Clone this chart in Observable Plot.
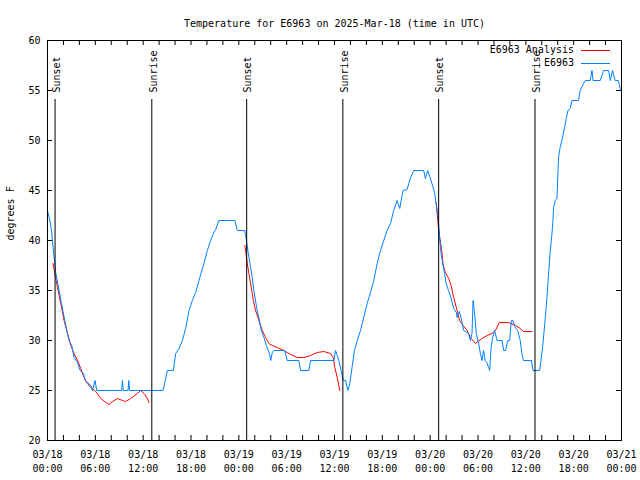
<!DOCTYPE html>
<html><head><meta charset="utf-8">
<script src="https://cdn.jsdelivr.net/npm/d3@7"></script>
<script src="https://cdn.jsdelivr.net/npm/@observablehq/plot@0.6"></script>
<style>
body{margin:0;background:#fff;}
#wrap{position:relative;width:640px;height:480px;font-family:"DejaVu Sans Mono",monospace;}
#legend{position:absolute;left:0;top:0;}
</style>
</head><body><div id="wrap"></div>
<script>
const title = "Temperature for E6963 on 2025-Mar-18 (time in UTC)";
const yLabel = "degrees F";
const startTime = "2025-03-18T00:00:00Z";
const endTime = "2025-03-21T00:00:00Z";
const seriesNames = ["E6963 Analysis", "E6963"];
const seriesColors = ["#ff0000", "#0080ff"];
const yTicks = [20, 25, 30, 35, 40, 45, 50, 55, 60];

// [hours since 03/18 00:00 UTC, temperature F]
const observed = [[0,43],[0.3,42],[0.5,41],[0.8,38.5],[0.95,37.5],[1.05,36.7],[1.45,35],[1.75,33.7],[2.17,32],[2.42,31],[2.7,30],[3.04,29.5],[3.33,28.3],[3.76,27.8],[4.08,27],[4.51,26.7],[4.71,26],[5.43,25.5],[5.64,25],[5.96,26],[6.18,25],[9.3,25],[9.4,26],[9.5,25],[10.1,25],[10.2,26],[10.3,25],[14.49,25],[15.04,27],[15.79,27],[16.08,28.7],[16.5,29.2],[16.92,30],[17.33,31.2],[17.75,33],[18.17,34],[18.58,34.8],[19.0,36],[19.62,37.7],[20.05,39],[20.46,40],[20.87,40.8],[21.1,41.1],[21.5,42],[23.5,42],[23.8,41],[24.73,41],[24.9,40.3],[25.0,39.7],[25.27,38.3],[25.48,37.3],[25.68,36.3],[25.89,35],[26.23,33.3],[26.53,32.2],[26.82,31],[27.15,30.3],[27.45,29.5],[27.7,29],[27.9,28.5],[28.0,28],[28.2,28.8],[28.4,29],[29.77,29],[30.07,28],[31.53,28],[31.74,27],[32.78,27],[33.0,28],[35.92,28],[36.13,29],[36.34,28.5],[36.54,28],[36.84,27],[37.1,26],[37.4,26],[37.67,25],[37.92,25.7],[38.2,27.3],[38.5,29],[38.85,30],[39.26,31],[39.67,32.3],[40.1,33.7],[40.52,34.8],[40.93,36],[41.35,37.7],[41.77,39],[42.18,40],[42.6,41],[43.02,41.7],[43.43,43],[43.85,44],[44.18,43.2],[44.36,44],[44.6,45],[45.1,45.1],[45.5,46.2],[45.94,47],[47.19,47],[47.4,46.2],[47.69,47],[48.0,46.3],[48.37,45.3],[48.57,44.7],[48.75,43.7],[48.95,42.7],[49.07,41.5],[49.28,39.5],[49.4,38.5],[49.6,37.7],[49.8,36.7],[50.0,35.7],[50.3,35],[50.6,34.3],[50.95,33.2],[51.28,32.8],[51.37,32.3],[51.66,32.9],[51.87,32.3],[52.2,31],[52.83,30.7],[53.04,30],[53.25,30.7],[53.38,34],[53.54,33],[53.79,30.7],[54.08,29.7],[54.3,28.7],[54.5,28],[54.7,29],[54.9,28],[55.1,27.8],[55.34,27.3],[55.47,27],[55.64,29.3],[55.84,30.3],[56.09,31],[56.39,30],[57.02,30],[57.22,29],[57.47,29],[57.72,30],[57.97,30],[58.18,32],[58.39,32],[58.68,31.3],[58.97,31],[59.3,30],[59.5,28.7],[59.7,28],[60.7,28],[60.9,27],[61.73,27],[61.9,28],[62.15,29.7],[62.44,32.3],[62.65,34.3],[62.85,36.7],[63.07,39],[63.28,40.7],[63.4,42],[63.48,43.3],[63.7,44],[63.9,44.2],[64.1,48.3],[64.3,49.3],[64.6,50.3],[64.86,51.3],[65.07,52.2],[65.28,53],[65.57,53.2],[65.78,54],[66.61,54],[66.82,55],[67.24,55.7],[67.46,56],[68.08,56],[68.3,57],[68.43,56],[69.34,56],[69.75,57],[70.39,57],[70.6,56],[70.88,57],[71.2,56],[71.6,56],[71.83,55.2],[72,55]];

const analysis1 = [[0.7,37.7],[0.92,36.7],[1.25,35.3],[1.67,33.7],[2.08,32],[2.51,30.7],[2.92,29.5],[3.33,28.7],[3.76,28],[4.17,27.2],[4.59,26.3],[5.01,25.7],[5.43,25.3],[6.05,24.9],[6.68,24.2],[7.31,23.8],[7.72,23.6],[8.15,23.9],[8.77,24.2],[9.4,24],[9.81,23.9],[10.44,24.2],[11.28,24.7],[11.69,25],[12.11,24.7],[12.53,24.2],[12.73,23.8]];
const analysis2 = [[24.76,39.5],[24.94,38.5],[25.06,37.7],[25.26,36.7],[25.48,35.7],[25.69,34.7],[25.81,34],[26.1,33],[26.52,32],[26.94,31],[27.36,30.3],[27.77,29.7],[28.2,29.5],[28.82,29.3],[29.65,29],[30.49,28.6],[31.33,28.3],[32.16,28.3],[33.0,28.5],[33.83,28.8],[34.66,28.9],[35.5,28.7],[35.84,28.3],[36.04,27.3],[36.34,26.3],[36.67,25]];
const analysis3 = [[48.75,43.8],[49.07,41],[49.5,38.7],[49.62,37.5],[49.91,36.8],[50.33,36.2],[50.63,35.5],[50.95,34.3],[51.38,33],[51.7,32],[52.13,31.5],[52.63,31],[53.04,30.3],[53.67,29.7],[54.51,30.2],[55.14,30.5],[55.76,30.7],[56.18,31],[56.68,31.8],[57.84,31.8],[58.68,31.5],[59.3,31.2],[59.72,30.9],[60.78,30.9]];

const sunEvents = ["Sunset","Sunrise","Sunset","Sunrise","Sunset","Sunrise"];
const sunTimes = ["2025-03-18T00:57:00Z","2025-03-18T13:05:00Z","2025-03-19T00:59:00Z","2025-03-19T13:03:00Z","2025-03-20T01:04:00Z","2025-03-20T13:09:00Z"];

const t0 = Date.parse(startTime);
const toDate = h => new Date(t0 + h * 3600e3);
const obsData = observed.map(([h, t]) => ({time: toDate(h), temp: t}));
const anaData = [analysis1, analysis2, analysis3].flatMap((seg, i) => seg.map(([h, t]) => ({time: toDate(h), temp: t, seg: i})));
const sunData = sunEvents.map((e, i) => ({name: e, time: new Date(sunTimes[i])}));
const minorTicks = d3.utcHour.every(2).range(new Date(startTime), new Date(Date.parse(endTime) + 1));
const fmt = d3.utcFormat("%m/%d\n%H:%M");

const W = 640, H = 480, mL = 47, mR = 19, mT = 40, mB = 40;
const innerW = W - mL - mR, innerH = H - mT - mB;

const chart = Plot.plot({
  width: W, height: H,
  marginLeft: mL, marginRight: mR, marginTop: mT, marginBottom: mB,
  style: {fontFamily: "'DejaVu Sans Mono', monospace", fontSize: "10px", background: "#fff", color: "#000"},
  x: {type: "utc", domain: [new Date(startTime), new Date(endTime)]},
  y: {domain: [20, 60]},
  marks: [
    Plot.axisX({anchor: "bottom", ticks: d3.utcHour.every(6), tickSize: 0, tickPadding: 8, tickFormat: fmt, lineHeight: 1.4, label: null, fontSize: 10}),
    Plot.axisY({anchor: "left", ticks: yTicks, tickSize: 0, tickPadding: 7, label: null, fontSize: 10}),
    Plot.tickX(minorTicks, {x: d => d, insetTop: innerH - 5, stroke: "#000"}),
    Plot.tickX(minorTicks, {x: d => d, insetBottom: innerH - 5, stroke: "#000"}),
    Plot.tickY(yTicks, {y: d => d, insetRight: innerW - 5, stroke: "#000"}),
    Plot.tickY(yTicks, {y: d => d, insetLeft: innerW - 5, stroke: "#000"}),
    Plot.line(anaData, {x: "time", y: "temp", z: "seg", stroke: seriesColors[0], strokeWidth: 1}),
    Plot.line(obsData, {x: "time", y: "temp", stroke: seriesColors[1], strokeWidth: 1}),
    Plot.ruleX(sunData, {x: "time", y1: 20, y2: 54.1, stroke: "#000", strokeWidth: 1}),
    Plot.text(sunData, {x: "time", y: 54.8, text: "name", rotate: -90, textAnchor: "start", lineAnchor: "middle", dx: 1.5, fontSize: 10, fill: "#000"}),
    Plot.frame({stroke: "#000"}),
    Plot.text([title], {frameAnchor: "top", dy: -21, fontSize: 10, fill: "#000"}),
    Plot.text([yLabel], {frameAnchor: "left", dx: -37, rotate: -90, fontSize: 10, fill: "#000"})
  ]
});
const wrap = document.getElementById("wrap");
wrap.appendChild(chart);

// legend overlay
const leg = d3.select(wrap).append("svg").attr("id", "legend").attr("width", W).attr("height", 80)
  .style("font-family", "'DejaVu Sans Mono', monospace").style("font-size", "10px");
seriesNames.forEach((n, i) => {
  const y = 50 + i * 13;
  leg.append("text").attr("x", 574).attr("y", y).attr("dy", "0.32em").attr("text-anchor", "end").attr("fill", "#000").text(n);
  leg.append("line").attr("x1", 581).attr("x2", 610).attr("y1", y + 0.5).attr("y2", y + 0.5).attr("stroke", seriesColors[i]).attr("stroke-width", 1);
});
</script>
</body></html>
